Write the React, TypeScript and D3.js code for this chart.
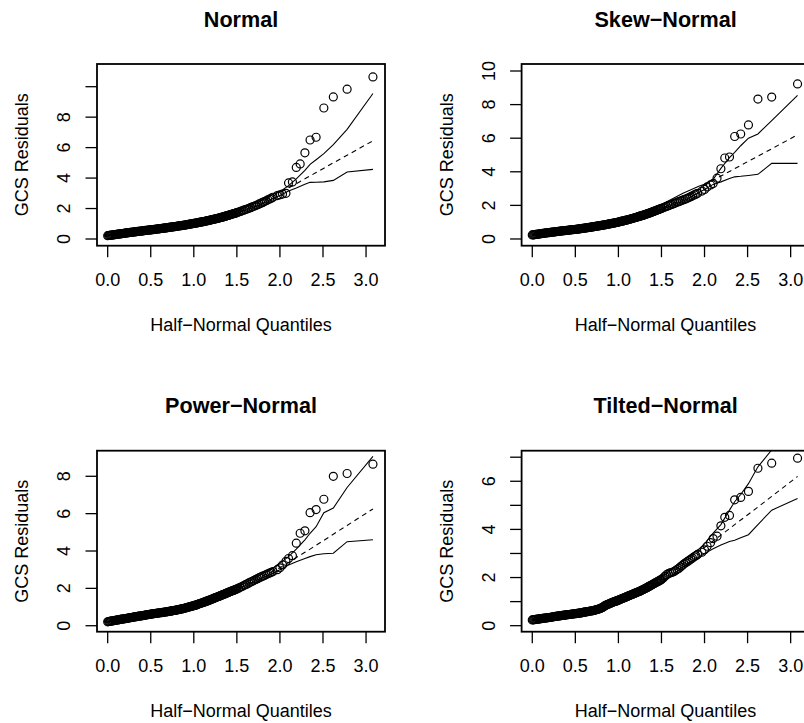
import React from 'react';
import * as d3 from 'd3';

// half-normal quantiles (x) shared by all four fits
const quantiles = [
  0.00, 0.01, 0.02, 0.03, 0.04, 0.05, 0.06, 0.07, 0.08, 0.09,
  0.10, 0.11, 0.12, 0.13, 0.14, 0.15, 0.16, 0.17, 0.18, 0.19,
  0.20, 0.21, 0.22, 0.23, 0.24, 0.25, 0.26, 0.27, 0.28, 0.29,
  0.30, 0.31, 0.32, 0.33, 0.34, 0.35, 0.36, 0.37, 0.38, 0.39,
  0.40, 0.41, 0.42, 0.43, 0.44, 0.45, 0.46, 0.47, 0.48, 0.49,
  0.50, 0.51, 0.52, 0.53, 0.54, 0.55, 0.56, 0.57, 0.58, 0.59,
  0.60, 0.61, 0.62, 0.63, 0.64, 0.65, 0.66, 0.67, 0.68, 0.69,
  0.70, 0.71, 0.72, 0.73, 0.74, 0.75, 0.76, 0.77, 0.78, 0.79,
  0.80, 0.81, 0.82, 0.83, 0.84, 0.85, 0.86, 0.87, 0.88, 0.89,
  0.90, 0.91, 0.92, 0.93, 0.94, 0.95, 0.96, 0.97, 0.98, 0.99,
  1.00, 1.01, 1.02, 1.03, 1.04, 1.05, 1.06, 1.07, 1.08, 1.09,
  1.10, 1.11, 1.12, 1.13, 1.14, 1.15, 1.16, 1.17, 1.18, 1.19,
  1.20, 1.21, 1.22, 1.23, 1.24, 1.25, 1.26, 1.27, 1.28, 1.29,
  1.30, 1.31, 1.32, 1.33, 1.34, 1.35, 1.36, 1.37, 1.38, 1.39,
  1.40, 1.41, 1.42, 1.43, 1.44, 1.45, 1.46, 1.47, 1.48, 1.49,
  1.50, 1.52, 1.54, 1.56, 1.58, 1.60, 1.62, 1.64, 1.66, 1.68, 1.70,
  1.72, 1.74, 1.76, 1.78, 1.80, 1.82, 1.84, 1.86, 1.88, 1.90, 1.92,
  1.97, 2.00, 2.03, 2.07, 2.10, 2.145, 2.19, 2.235, 2.29, 2.35, 2.42, 2.51, 2.62, 2.78, 3.08,
];

// GCS residuals, sorted, one per quantile
const normalResid = [
  0.22, 0.23, 0.24, 0.245, 0.25, 0.26, 0.27, 0.275, 0.28, 0.29,
  0.30, 0.31, 0.32, 0.325, 0.33, 0.34, 0.35, 0.355, 0.36, 0.37,
  0.38, 0.39, 0.40, 0.405, 0.41, 0.42, 0.43, 0.435, 0.44, 0.45,
  0.46, 0.465, 0.47, 0.48, 0.49, 0.495, 0.50, 0.51, 0.52, 0.525,
  0.53, 0.535, 0.54, 0.55, 0.56, 0.565, 0.57, 0.58, 0.59, 0.595,
  0.60, 0.605, 0.61, 0.62, 0.63, 0.635, 0.64, 0.65, 0.66, 0.665,
  0.67, 0.68, 0.69, 0.695, 0.70, 0.71, 0.72, 0.725, 0.73, 0.74,
  0.75, 0.76, 0.77, 0.775, 0.78, 0.79, 0.80, 0.805, 0.81, 0.82,
  0.83, 0.84, 0.85, 0.86, 0.87, 0.875, 0.88, 0.89, 0.90, 0.91,
  0.92, 0.93, 0.94, 0.95, 0.96, 0.97, 0.98, 0.99, 1.00, 1.01,
  1.02, 1.03, 1.04, 1.05, 1.06, 1.075, 1.09, 1.10, 1.11, 1.12,
  1.13, 1.14, 1.15, 1.165, 1.18, 1.19, 1.20, 1.215, 1.23, 1.24,
  1.25, 1.265, 1.28, 1.295, 1.31, 1.32, 1.33, 1.345, 1.36, 1.375,
  1.39, 1.405, 1.42, 1.435, 1.45, 1.465, 1.48, 1.50, 1.52, 1.535,
  1.55, 1.57, 1.59, 1.605, 1.62, 1.64, 1.66, 1.675, 1.69, 1.71,
  1.73, 1.77, 1.81, 1.85, 1.89, 1.93, 1.97, 2.02, 2.06, 2.11, 2.15,
  2.20, 2.25, 2.30, 2.35, 2.40, 2.46, 2.51, 2.57, 2.62, 2.68, 2.74,
  2.85, 2.90, 2.95, 3.00, 3.68, 3.75, 4.70, 4.93, 5.66, 6.50, 6.68, 8.60, 9.33, 9.84, 10.64,
];

const skewResid = [
  0.24, 0.245, 0.25, 0.26, 0.27, 0.275, 0.28, 0.29, 0.30, 0.305,
  0.31, 0.32, 0.33, 0.335, 0.34, 0.35, 0.36, 0.365, 0.37, 0.375,
  0.38, 0.39, 0.40, 0.405, 0.41, 0.415, 0.42, 0.43, 0.44, 0.445,
  0.45, 0.455, 0.46, 0.47, 0.48, 0.485, 0.49, 0.495, 0.50, 0.505,
  0.51, 0.515, 0.52, 0.53, 0.54, 0.545, 0.55, 0.555, 0.56, 0.565,
  0.57, 0.575, 0.58, 0.59, 0.60, 0.605, 0.61, 0.62, 0.63, 0.635,
  0.64, 0.65, 0.66, 0.665, 0.67, 0.68, 0.69, 0.695, 0.70, 0.71,
  0.72, 0.73, 0.74, 0.745, 0.75, 0.76, 0.77, 0.78, 0.79, 0.80,
  0.81, 0.815, 0.82, 0.83, 0.84, 0.85, 0.86, 0.87, 0.88, 0.89,
  0.90, 0.91, 0.92, 0.93, 0.94, 0.95, 0.96, 0.97, 0.98, 0.995,
  1.01, 1.02, 1.03, 1.045, 1.06, 1.07, 1.08, 1.095, 1.11, 1.12,
  1.13, 1.145, 1.16, 1.175, 1.19, 1.205, 1.22, 1.235, 1.25, 1.265,
  1.28, 1.295, 1.31, 1.325, 1.34, 1.355, 1.37, 1.385, 1.40, 1.42,
  1.44, 1.455, 1.47, 1.49, 1.51, 1.525, 1.54, 1.56, 1.58, 1.60,
  1.62, 1.64, 1.66, 1.68, 1.70, 1.72, 1.74, 1.76, 1.78, 1.80,
  1.82, 1.86, 1.90, 1.94, 1.98, 2.02, 2.06, 2.10, 2.14, 2.18, 2.22,
  2.26, 2.30, 2.34, 2.38, 2.42, 2.47, 2.52, 2.57, 2.62, 2.67, 2.72,
  2.85, 2.95, 3.10, 3.22, 3.30, 3.62, 4.18, 4.82, 4.88, 6.10, 6.25, 6.79, 8.33, 8.45, 9.23,
];

const powerResid = [
  0.21, 0.22, 0.23, 0.24, 0.25, 0.255, 0.26, 0.27, 0.28, 0.29,
  0.30, 0.305, 0.31, 0.32, 0.33, 0.34, 0.35, 0.355, 0.36, 0.37,
  0.38, 0.385, 0.39, 0.40, 0.41, 0.42, 0.43, 0.435, 0.44, 0.45,
  0.46, 0.47, 0.48, 0.485, 0.49, 0.50, 0.51, 0.515, 0.52, 0.53,
  0.54, 0.545, 0.55, 0.56, 0.57, 0.58, 0.59, 0.595, 0.60, 0.61,
  0.62, 0.625, 0.63, 0.64, 0.65, 0.655, 0.66, 0.665, 0.67, 0.68,
  0.69, 0.695, 0.70, 0.705, 0.71, 0.72, 0.73, 0.735, 0.74, 0.75,
  0.76, 0.765, 0.77, 0.78, 0.79, 0.80, 0.81, 0.815, 0.82, 0.83,
  0.84, 0.85, 0.86, 0.87, 0.88, 0.89, 0.90, 0.91, 0.92, 0.935,
  0.95, 0.96, 0.97, 0.985, 1.00, 1.01, 1.02, 1.035, 1.05, 1.06,
  1.07, 1.085, 1.10, 1.115, 1.13, 1.15, 1.17, 1.185, 1.20, 1.215,
  1.23, 1.245, 1.26, 1.28, 1.30, 1.315, 1.33, 1.35, 1.37, 1.385,
  1.40, 1.42, 1.44, 1.46, 1.48, 1.50, 1.52, 1.535, 1.55, 1.57,
  1.59, 1.61, 1.63, 1.65, 1.67, 1.685, 1.70, 1.72, 1.74, 1.76,
  1.78, 1.80, 1.82, 1.84, 1.86, 1.875, 1.89, 1.91, 1.93, 1.95,
  1.97, 2.01, 2.06, 2.10, 2.15, 2.20, 2.24, 2.29, 2.34, 2.38, 2.43,
  2.48, 2.52, 2.57, 2.61, 2.65, 2.69, 2.74, 2.78, 2.82, 2.86, 2.90,
  3.00, 3.10, 3.25, 3.45, 3.60, 3.75, 4.42, 4.95, 5.08, 6.05, 6.22, 6.77, 8.00, 8.15, 8.65,
];

const tiltedResid = [
  0.24, 0.245, 0.25, 0.255, 0.26, 0.265, 0.27, 0.275, 0.28, 0.285,
  0.29, 0.295, 0.30, 0.305, 0.31, 0.315, 0.32, 0.325, 0.33, 0.335,
  0.34, 0.345, 0.35, 0.36, 0.37, 0.375, 0.38, 0.385, 0.39, 0.395,
  0.40, 0.405, 0.41, 0.415, 0.42, 0.425, 0.43, 0.435, 0.44, 0.445,
  0.45, 0.455, 0.46, 0.465, 0.47, 0.475, 0.48, 0.485, 0.49, 0.495,
  0.50, 0.505, 0.51, 0.515, 0.52, 0.525, 0.53, 0.535, 0.54, 0.55,
  0.56, 0.565, 0.57, 0.575, 0.58, 0.59, 0.60, 0.605, 0.61, 0.615,
  0.62, 0.63, 0.64, 0.65, 0.66, 0.67, 0.68, 0.69, 0.70, 0.715,
  0.73, 0.75, 0.77, 0.795, 0.82, 0.84, 0.86, 0.875, 0.89, 0.905,
  0.92, 0.935, 0.95, 0.965, 0.98, 0.995, 1.01, 1.02, 1.03, 1.045,
  1.06, 1.075, 1.09, 1.105, 1.12, 1.135, 1.15, 1.165, 1.18, 1.195,
  1.21, 1.225, 1.24, 1.255, 1.27, 1.285, 1.30, 1.315, 1.33, 1.345,
  1.36, 1.375, 1.39, 1.405, 1.42, 1.435, 1.45, 1.47, 1.49, 1.505,
  1.52, 1.54, 1.56, 1.58, 1.60, 1.62, 1.64, 1.66, 1.68, 1.70,
  1.72, 1.74, 1.76, 1.78, 1.80, 1.82, 1.84, 1.86, 1.88, 1.90,
  1.92, 1.98, 2.05, 2.12, 2.16, 2.19, 2.21, 2.24, 2.28, 2.33, 2.38,
  2.44, 2.50, 2.56, 2.61, 2.66, 2.71, 2.76, 2.81, 2.86, 2.91, 2.96,
  3.05, 3.15, 3.30, 3.45, 3.62, 3.72, 4.15, 4.50, 4.58, 5.23, 5.33, 5.58, 6.54, 6.75, 6.96,
];

// simulated envelope: lower bound, median (dashed), upper bound
const envX = [0, 0.25, 0.5, 0.75, 1.0, 1.25, 1.5, 1.75, 1.94, 2.0, 2.1, 2.19, 2.29, 2.35, 2.42, 2.51, 2.62, 2.78, 3.08];

const normalLower = [0.2, 0.4, 0.58, 0.77, 0.99, 1.3, 1.68, 2.2, 2.72, 2.85, 3.15, 3.35, 3.6, 3.72, 3.73, 3.75, 3.85, 4.4, 4.57];
const normalMid = [0.22, 0.42, 0.61, 0.8, 1.03, 1.35, 1.76, 2.32, 2.88, 3.05, 3.35, 3.63, 3.95, 4.14, 4.36, 4.65, 5.0, 5.5, 6.45];
const normalUpper = [0.24, 0.45, 0.64, 0.84, 1.07, 1.41, 1.84, 2.43, 2.98, 3.1, 3.5, 3.95, 4.5, 4.9, 5.2, 5.6, 6.2, 7.2, 9.55];

const skewLower = [0.22, 0.39, 0.55, 0.76, 1.0, 1.3, 1.75, 2.25, 2.78, 2.95, 3.25, 3.4, 3.6, 3.7, 3.73, 3.78, 3.85, 4.5, 4.5];
const skewMid = [0.24, 0.42, 0.58, 0.8, 1.04, 1.36, 1.83, 2.38, 2.95, 3.2, 3.5, 3.75, 4.02, 4.19, 4.38, 4.63, 4.93, 5.37, 6.2];
const skewUpper = [0.26, 0.45, 0.62, 0.85, 1.1, 1.45, 2.05, 2.72, 3.15, 3.25, 3.55, 4.2, 4.85, 5.15, 5.55, 6.0, 6.25, 7.05, 8.55];

const powerLower = [0.19, 0.4, 0.59, 0.77, 1.03, 1.45, 1.92, 2.48, 2.85, 3.0, 3.25, 3.42, 3.6, 3.7, 3.8, 3.85, 3.88, 4.5, 4.6];
const powerMid = [0.21, 0.42, 0.62, 0.8, 1.07, 1.5, 1.98, 2.56, 2.95, 3.1, 3.38, 3.65, 3.93, 4.1, 4.31, 4.57, 4.9, 5.37, 6.25];
const powerUpper = [0.23, 0.45, 0.65, 0.84, 1.12, 1.56, 2.05, 2.66, 3.15, 3.35, 3.7, 4.1, 4.6, 4.95, 5.3, 6.05, 6.3, 7.4, 9.07];

const tiltedLower = [0.22, 0.35, 0.46, 0.62, 0.98, 1.33, 1.75, 2.45, 2.85, 3.0, 3.2, 3.35, 3.5, 3.55, 3.65, 3.78, 4.2, 4.8, 5.28];
const tiltedMid = [0.24, 0.38, 0.5, 0.67, 1.05, 1.42, 1.9, 2.55, 3.1, 3.25, 3.52, 3.76, 4.03, 4.2, 4.39, 4.63, 4.93, 5.37, 6.2];
const tiltedUpper = [0.26, 0.41, 0.54, 0.72, 1.1, 1.5, 2.0, 2.72, 3.2, 3.4, 3.85, 4.2, 4.8, 5.15, 5.45, 5.9, 6.6, 7.3, 8.5];

const xTicks = [0, 0.5, 1, 1.5, 2, 2.5, 3];
const xTickLabels = ['0.0', '0.5', '1.0', '1.5', '2.0', '2.5', '3.0'];

const titles = ['Normal', 'Skew\u2212Normal', 'Power\u2212Normal', 'Tilted\u2212Normal'];
const xLabel = 'Half\u2212Normal Quantiles';
const yLabel = 'GCS Residuals';

const FONT = '"Liberation Sans", Arial, Helvetica, sans-serif';
const BOX_W = 288;

const panels = [
  { title: titles[0], left: 97, top: 64, h: 181.7, yDomain: [-0.44, 11.49],
    resid: normalResid, lower: normalLower, mid: normalMid, upper: normalUpper,
    yTicks: [0, 2, 4, 6, 8, 10], yLabels: [0, 2, 4, 6, 8] },
  { title: titles[1], left: 521.6, top: 64, h: 181.7, yDomain: [-0.4, 10.417],
    resid: skewResid, lower: skewLower, mid: skewMid, upper: skewUpper,
    yTicks: [0, 2, 4, 6, 8, 10], yLabels: [0, 2, 4, 6, 8, 10] },
  { title: titles[2], left: 97, top: 450.7, h: 181, yDomain: [-0.32, 9.37],
    resid: powerResid, lower: powerLower, mid: powerMid, upper: powerUpper,
    yTicks: [0, 2, 4, 6, 8], yLabels: [0, 2, 4, 6, 8] },
  { title: titles[3], left: 521.6, top: 450.7, h: 181, yDomain: [-0.25, 7.27],
    resid: tiltedResid, lower: tiltedLower, mid: tiltedMid, upper: tiltedUpper,
    yTicks: [0, 1, 2, 3, 4, 5, 6, 7], yLabels: [0, 2, 4, 6] },
];

const Panel = ({ p, idx }: { p: any; idx: number }) => {
  const x = d3.scaleLinear().domain([-0.124, 3.22]).range([p.left, p.left + BOX_W]);
  const y = d3.scaleLinear().domain(p.yDomain).range([p.top + p.h, p.top]);
  const bottom = p.top + p.h;
  const cx = p.left + BOX_W / 2;
  const line = (vals: number[]) =>
    d3.line<number>().x((_, i) => x(envX[i])).y(d => y(d))(vals) || '';
  const clipId = `clip-${idx}`;

  return (
    <g>
      <defs>
        <clipPath id={clipId}>
          <rect x={p.left} y={p.top} width={BOX_W} height={p.h} />
        </clipPath>
      </defs>
      <text x={cx} y={p.top - 37.5} textAnchor="middle" fontWeight="bold" fontSize={21.6}>
        {p.title}
      </text>
      <g clipPath={`url(#${clipId})`}>
        {p.resid.map((v: number, i: number) => (
          <circle key={i} cx={x(quantiles[i])} cy={y(v)} r={4} fill="none" stroke="#000" strokeWidth={1.2} />
        ))}
        <path d={line(p.lower)} fill="none" stroke="#000" strokeWidth={1.1} />
        <path d={line(p.upper)} fill="none" stroke="#000" strokeWidth={1.1} />
        <path d={line(p.mid)} fill="none" stroke="#000" strokeWidth={1.1} strokeDasharray="5,4" />
      </g>
      <rect x={p.left} y={p.top} width={BOX_W} height={p.h} fill="none" stroke="#000" strokeWidth={1.8} />
      {xTicks.map((t, i) => (
        <g key={t}>
          <line x1={x(t)} x2={x(t)} y1={bottom} y2={bottom + 11.5} stroke="#000" strokeWidth={1.3} />
          <text x={x(t)} y={bottom + 40.5} textAnchor="middle" fontSize={18}>{xTickLabels[i]}</text>
        </g>
      ))}
      {p.yTicks.map((t: number) => (
        <line key={t} x1={p.left} x2={p.left - 11.5} y1={y(t)} y2={y(t)} stroke="#000" strokeWidth={1.3} />
      ))}
      {p.yLabels.map((t: number) => (
        <text key={t} transform={`translate(${p.left - 27},${y(t)}) rotate(-90)`} textAnchor="middle" fontSize={18}>
          {String(t)}
        </text>
      ))}
      <text x={cx} y={bottom + 85} textAnchor="middle" fontSize={18}>{xLabel}</text>
      <text transform={`translate(${p.left - 68.7},${p.top + p.h / 2}) rotate(-90)`} textAnchor="middle" fontSize={18}>
        {yLabel}
      </text>
    </g>
  );
};

export default function App() {
  return (
    <svg width={804} height={723} style={{ position: 'absolute', left: 0, top: 0, background: '#fff' }}
      fontFamily={FONT}>
      <rect x={0} y={0} width={804} height={723} fill="#fff" />
      {panels.map((p, i) => <Panel key={i} p={p} idx={i} />)}
    </svg>
  );
}
